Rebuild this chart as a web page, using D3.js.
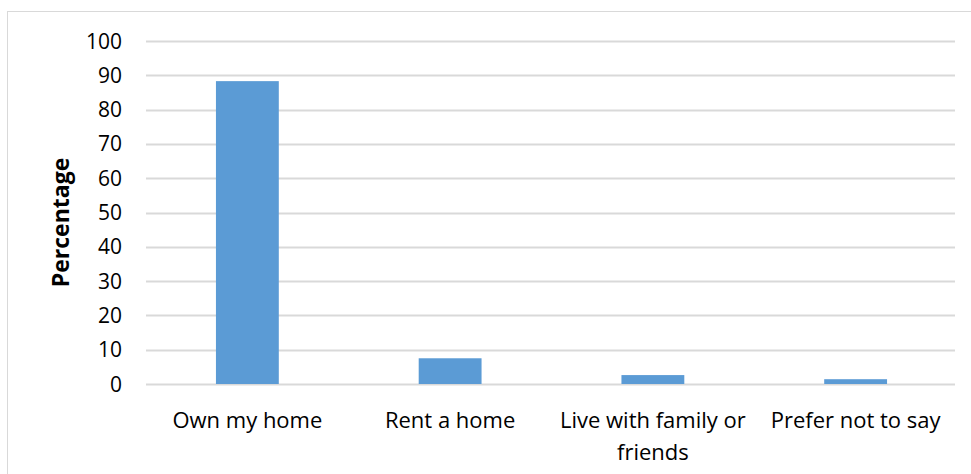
<!DOCTYPE html>
<html>
<head>
<meta charset="utf-8">
<script src="https://cdn.jsdelivr.net/npm/d3@7"></script>
<style>
  body { margin: 0; background: #fff; }
  svg { display: block; }
  text { font-family: "Open Sans", sans-serif; fill: #000; }
</style>
</head>
<body>
<svg width="971" height="474"></svg>
<script>
// data
var categories = ["Own my home", "Rent a home", "Live with family or friends", "Prefer not to say"];
var percentages = [88.3, 7.5, 2.6, 1.4];
var yTicks = [0, 10, 20, 30, 40, 50, 60, 70, 80, 90, 100];

var svg = d3.select("svg");
var plotLeft = 146, plotRight = 957, plotTop = 41, plotBottom = 384;

// chart frame
svg.append("rect")
    .attr("x", 7.5).attr("y", 11.5)
    .attr("width", 980).attr("height", 480)
    .attr("fill", "none")
    .attr("stroke", "#d9d9d9");

var x = d3.scaleBand()
    .domain(categories)
    .range([plotLeft, plotRight])
    .paddingInner(0.69)
    .paddingOuter(0.345);

var y = d3.scaleLinear()
    .domain([0, 100])
    .range([plotBottom, plotTop]);

// gridlines
svg.append("g").selectAll("line")
    .data(yTicks)
    .enter()
    .append("line")
    .attr("x1", plotLeft)
    .attr("x2", plotRight - 2)
    .attr("y1", function(d) { return Math.round(y(d)) + 0.5; })
    .attr("y2", function(d) { return Math.round(y(d)) + 0.5; })
    .attr("stroke", "#d9d9d9")
    .attr("stroke-width", 2);

// y tick labels
svg.append("g").selectAll("text")
    .data(yTicks)
    .enter()
    .append("text")
    .attr("x", 122)
    .attr("y", function(d) { return y(d); })
    .attr("dy", "0.36em")
    .attr("text-anchor", "end")
    .attr("font-size", 21)
    .text(function(d) { return d; });

// bars
svg.append("g").selectAll("rect")
    .data(percentages)
    .enter()
    .append("rect")
    .attr("x", function(d, i) { return x(categories[i]); })
    .attr("y", function(d) { return y(d); })
    .attr("width", x.bandwidth())
    .attr("height", function(d) { return plotBottom - y(d); })
    .attr("fill", "#5b9bd5");

// category labels, wrapped to the band step
var step = x.step();
svg.append("g").selectAll("text")
    .data(categories)
    .enter()
    .append("text")
    .attr("x", function(d) { return x(d) + x.bandwidth() / 2; })
    .attr("y", 428)
    .attr("text-anchor", "middle")
    .attr("font-size", 22)
    .each(function(d) {
        var el = d3.select(this);
        var words = d.split(" ");
        var line = [];
        var tspan = el.append("tspan").attr("x", el.attr("x")).attr("dy", 0);
        words.forEach(function(w) {
            line.push(w);
            tspan.text(line.join(" "));
            if (tspan.node().getComputedTextLength() > step && line.length > 1) {
                line.pop();
                tspan.text(line.join(" "));
                line = [w];
                tspan = el.append("tspan").attr("x", el.attr("x")).attr("dy", 32).text(w);
            }
        });
    });

// axis title
svg.append("text")
    .attr("transform", "translate(69," + ((plotTop + plotBottom) / 2 + 10) + ") rotate(-90)")
    .attr("text-anchor", "middle")
    .attr("font-size", 23)
    .attr("font-weight", "bold")
    .text("Percentage");
</script>
</body>
</html>
